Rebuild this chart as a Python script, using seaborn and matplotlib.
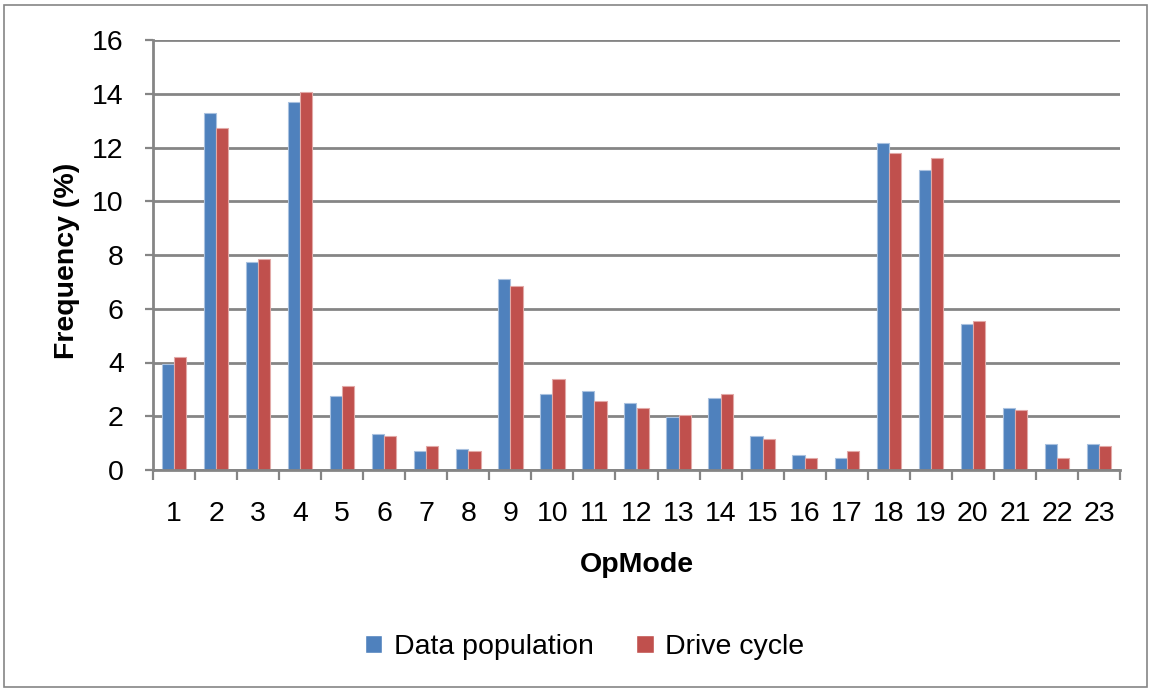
import numpy as np
import pandas as pd
import matplotlib.pyplot as plt
from matplotlib.patches import Rectangle
import seaborn as sns

sns.set_theme(style='white')
plt.rcParams['font.family'] = ['Liberation Sans', 'DejaVu Sans']
plt.rcParams['text.color'] = 'black'
plt.rcParams['axes.labelcolor'] = 'black'
plt.rcParams['xtick.color'] = 'black'
plt.rcParams['ytick.color'] = 'black'

# values
op_modes = [str(i) for i in range(1, 24)]
data_population = [3.93, 13.28, 7.75, 13.71, 2.76, 1.34, 0.72, 0.80, 7.11, 2.84, 2.94, 2.49,
                   1.98, 2.67, 1.26, 0.54, 0.44, 12.16, 11.17, 5.44, 2.31, 0.97, 0.97]
drive_cycle = [4.19, 12.73, 7.84, 14.07, 3.12, 1.25, 0.89, 0.72, 6.84, 3.38, 2.58, 2.32,
               2.06, 2.84, 1.16, 0.46, 0.71, 11.80, 11.61, 5.54, 2.23, 0.44, 0.88]
series_names = ["Data population", "Drive cycle"]

df = pd.DataFrame({
    "OpMode": op_modes * 2,
    "Frequency": data_population + drive_cycle,
    "Series": [series_names[0]] * len(op_modes) + [series_names[1]] * len(op_modes),
})

grey = '#858585'
fs = 20.5

fig = plt.figure(figsize=(11.51, 6.90), dpi=100)
ax = fig.add_axes([153 / 1151, 1 - 470 / 690, 967 / 1151, 430 / 690])

sns.barplot(data=df, x="OpMode", y="Frequency", hue="Series", order=op_modes,
            palette=['#4f81bd', '#c0504d'], saturation=1, width=0.58, ax=ax, legend=True)

# lighter outline on the bars, like the original
for cont, ec in zip(ax.containers, ['#a9c1df', '#e2a9a7']):
    for p in cont.patches:
        p.set_edgecolor(ec)
        p.set_linewidth(0.8)

ax.set_ylim(0, 16)
ax.set_xlim(-0.5, len(op_modes) - 0.5)
ax.set_yticks(np.arange(0, 17, 2))
ax.yaxis.grid(True, color=grey, lw=2.0)
ax.set_axisbelow(True)

for s in ['top', 'right']:
    ax.spines[s].set_visible(False)
for s in ['left', 'bottom']:
    ax.spines[s].set_color(grey)
    ax.spines[s].set_linewidth(2.0)

ax.tick_params(axis='y', which='major', direction='out', length=6, width=1.6,
               color=grey, pad=15, labelsize=fs, left=True)
ax.tick_params(axis='x', which='major', length=0, pad=22, labelsize=fs)
ax.set_xticks(np.arange(-0.5, len(op_modes), 1), minor=True)
ax.tick_params(axis='x', which='minor', direction='out', length=7.5, width=1.6,
               color=grey, bottom=True)

ax.set_xlabel("OpMode", fontsize=fs, fontweight='bold')
ax.xaxis.set_label_coords(0.5, -0.19)
ax.set_ylabel("Frequency (%)", fontsize=fs, fontweight='bold')
ax.yaxis.set_label_coords(-0.075, 0.486)

handles, labels = ax.get_legend_handles_labels()
ax.get_legend().remove()
fig.legend(handles, labels, loc='center', bbox_to_anchor=(0.508, 0.062), ncol=2,
           frameon=False, fontsize=fs, handlelength=0.62, handleheight=0.62,
           handletextpad=0.4, columnspacing=1.5)

# thin grey frame round the whole chart
fig.add_artist(Rectangle((4 / 1151, 3 / 690), 1 - 8 / 1151, 1 - 8 / 690,
                         transform=fig.transFigure, fill=False,
                         edgecolor=grey, lw=1.2))

fig.savefig('out.png', dpi=100)
